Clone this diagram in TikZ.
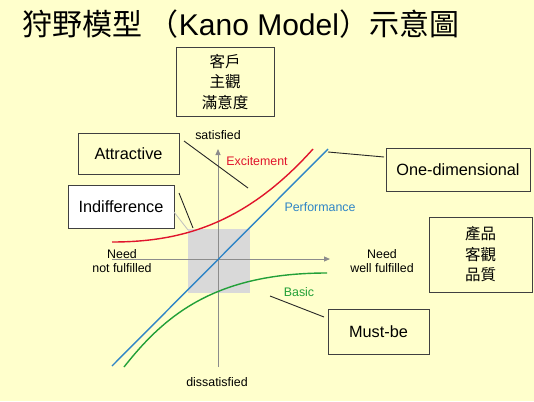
\documentclass[tikz,border=0pt]{standalone}
\usepackage{fontspec}
\setmainfont{Liberation Sans}
\newfontfamily\cjk{Noto Sans CJK TC}
\usetikzlibrary{arrows.meta}
\definecolor{bg}{HTML}{FFFFCC}
\definecolor{boxline}{HTML}{404040}
\definecolor{axisgray}{HTML}{8C8C8C}
\definecolor{kred}{HTML}{E0142C}
\definecolor{kblue}{HTML}{2F85C6}
\definecolor{kgreen}{HTML}{22A038}
\tikzset{
  lbox/.style={draw=boxline, line width=1pt, fill=bg, inner sep=0pt, align=center},
  small/.style={font=\fontsize{12.4}{14.5}\selectfont, align=center, inner sep=0pt},
  big/.style={font=\fontsize{16.3}{19}\selectfont},
  cjkbox/.style={font=\cjk\fontsize{15.5}{20.5}\selectfont},
  conn/.style={draw=black!85, line width=0.9pt},
  axis/.style={draw=axisgray, line width=1pt, -{Triangle[length=6pt,width=5pt]}},
  curve/.style={line width=1.4pt}
}
\begin{document}
\begin{tikzpicture}[x=1pt,y=-1pt]
\fill[bg] (0,0) rectangle (534,401);
\useasboundingbox (0,0) rectangle (534,401);
% title
\node[anchor=west, inner sep=0pt, font=\fontsize{30}{33}\selectfont] (title) at (22,24)
  {{\cjk 狩野模型 （}Kano Model{\cjk ）示意圖}};
% gray region
\fill[black!15] (188,229) rectangle (250,293);
% axes
\coordinate (hl) at (112,259);
\coordinate (hr) at (330,259);
\coordinate (vb) at (218,367);
\coordinate (vt) at (218,149);
\draw[axis] (hl) -- (hr);
\draw[axis] (vb) -- (vt);
% curves
\coordinate (b0) at (112,366);
\coordinate (b1) at (328,149);
\draw[curve, kblue] (b0) -- (b1);
\draw[curve, kred] (112,242) .. controls (180,242) and (245,225) .. (313,149);
\draw[curve, kgreen] (124,367) .. controls (165,315) and (215,273) .. (327,273);
% labels
\node[small] (sat) at (218,135) {satisfied};
\node[small] (dis) at (217,382) {dissatisfied};
\node[small] (nnf) at (122,261) {Need\\not fulfilled};
\node[small] (nwf) at (382,261) {Need\\well fulfilled};
\node[small, text=kred] (exc) at (257,161) {Excitement};
\node[small, text=kblue] (perf) at (320,207) {Performance};
\node[small, text=kgreen] (basic) at (299,292) {Basic};
% boxes
\node[lbox, cjkbox, minimum width=98pt, minimum height=68pt] (subj) at (225,82) {客戶\\主觀\\滿意度};
\node[lbox, big, minimum width=101pt, minimum height=41pt] (attr) at (128.5,153.5) {Attractive};
\node[lbox, big, fill=white, minimum width=106pt, minimum height=43pt] (indiff) at (121,206.5) {Indifference};
\node[lbox, big, minimum width=144pt, minimum height=43pt] (onedim) at (458,169.5) {One-dimensional};
\node[lbox, cjkbox, minimum width=103pt, minimum height=75pt] (prod) at (480.5,254.5) {產品\\客觀\\品質};
\node[lbox, big, minimum width=101pt, minimum height=45pt] (mustbe) at (378.5,331.5) {Must-be};
% connectors
\coordinate (a1) at (184,141);
\coordinate (a2) at (248,188);
\draw[conn] (a1) -- (a2);
\coordinate (i1) at (179,193);
\coordinate (i2) at (193,228);
\draw[conn] (i1) -- (i2);
\coordinate (i3) at (174,212);
\coordinate (i4) at (188,230);
\draw[draw=black!25, line width=0.8pt] (i3) -- (i4);
\coordinate (o1) at (328,152);
\coordinate (o2) at (384,157);
\draw[conn] (o1) -- (o2);
\coordinate (m1) at (270,296);
\coordinate (m2) at (324,317);
\draw[conn] (m1) -- (m2);
\end{tikzpicture}
\end{document}
